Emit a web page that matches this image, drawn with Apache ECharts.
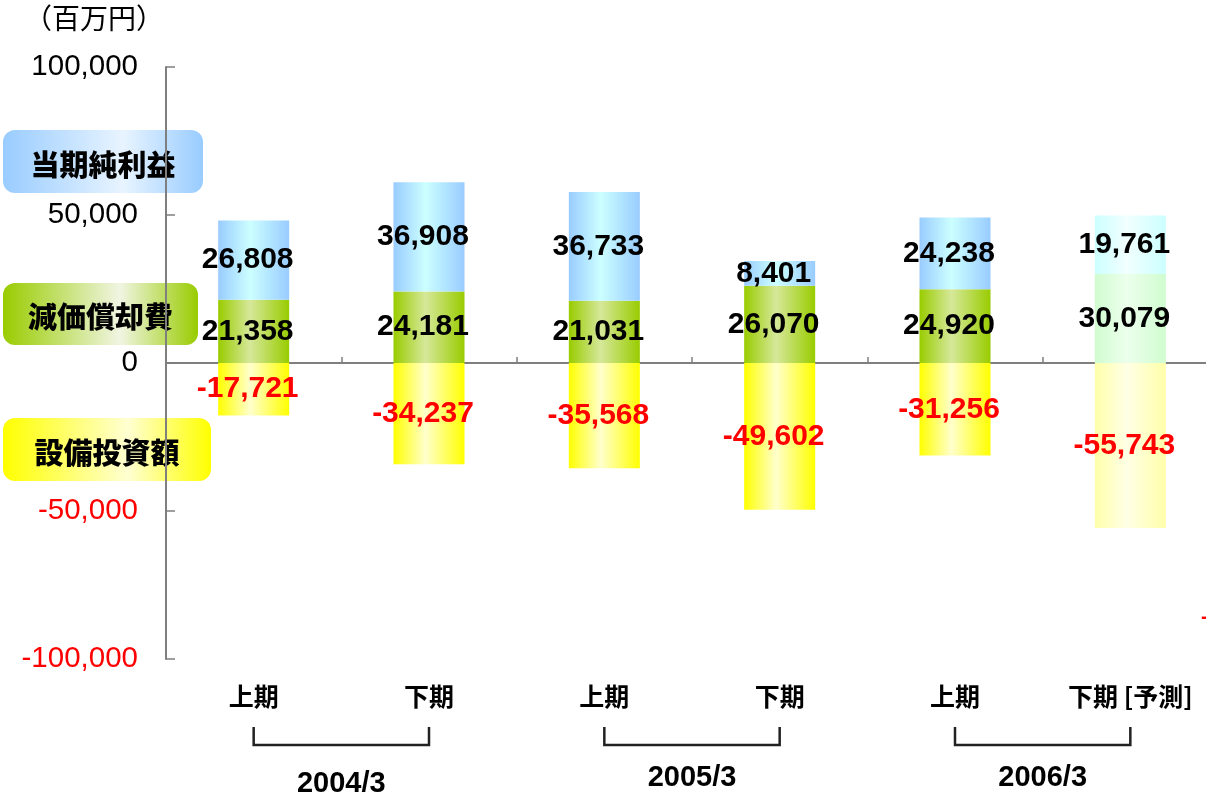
<!DOCTYPE html>
<html>
<head>
<meta charset="utf-8">
<script src="https://cdn.jsdelivr.net/npm/echarts@6/dist/echarts.min.js"></script>
<style>
html,body{margin:0;padding:0;background:#fff;}
#c{width:1206px;height:797px;}
</style>
</head>
<body>
<div id="c"></div>
<script>
const categories = ['上期', '下期', '上期', '下期', '上期', '下期 [予測]'];
const depreciation = [21358, 24181, 21031, 26070, 24920, 30079];
const netIncome = [26808, 36908, 36733, 8401, 24238, 19761];
const capex = [-17721, -34237, -35568, -49602, -31256, -55743];
const years = ['2004/3', '2005/3', '2006/3'];
const legendNames = ['当期純利益', '減価償却費', '設備投資額'];
const unitLabel = '（百万円）';
const forecastIndex = 5;

const LAT = 'Liberation Sans, Arial, sans-serif';
const CJK = 'Noto Sans CJK JP, sans-serif';

function grad(edge, mid) {
  return new echarts.graphic.LinearGradient(0, 0, 1, 0, [
    {offset: 0, color: edge}, {offset: 0.45, color: mid}, {offset: 1, color: edge}
  ]);
}
const fills = {
  blue: grad('#99ccff', '#ccffff'),
  blueF: grad('#ccffff', '#f2ffff'),
  green: grad('#99cc00', '#d6e89a'),
  greenF: grad('#d0fcd0', '#ecffec'),
  yellow: grad('#ffff00', '#ffffcc'),
  yellowF: grad('#ffffaa', '#ffffe6')
};
function fmt(v) {
  const s = Math.abs(v).toString().replace(/\B(?=(\d{3})+(?!\d))/g, ',');
  return (v < 0 ? '-' : '') + s;
}
function items(arr, normal, forecast) {
  return arr.map((v, i) => ({value: v, itemStyle: {color: i === forecastIndex ? forecast : normal}}));
}
const labelBase = {
  show: true, position: 'inside', offset: [-6, 0],
  fontFamily: LAT, fontWeight: 'bold', fontSize: 30,
  formatter: p => fmt(p.value)
};

const chart = echarts.init(document.getElementById('c'));
chart.setOption({
  animation: false,
  grid: {left: 166, width: 1052, top: 67, bottom: 138, outerBoundsMode: 'none', containLabel: false},
  xAxis: [{
    type: 'category', data: categories,
    axisLine: {onZero: true, lineStyle: {color: '#7f7f7f', width: 2}},
    axisTick: {show: true, inside: true, length: 6, lineStyle: {color: '#7f7f7f', width: 1.5}},
    axisLabel: {show: false}
  }, {
    type: 'category', data: categories, position: 'bottom',
    axisLine: {show: false}, axisTick: {show: false},
    axisLabel: {show: true, margin: 25, color: '#000', fontFamily: CJK, fontSize: 25, fontWeight: 'bold'}
  }],
  yAxis: {
    type: 'value', min: -100000, max: 100000, interval: 50000,
    axisLine: {show: true, lineStyle: {color: '#7f7f7f', width: 2}},
    axisTick: {show: true, inside: true, length: 9, lineStyle: {color: '#7f7f7f', width: 1.5}},
    splitLine: {show: false},
    axisLabel: {
      margin: 28, fontFamily: LAT, fontSize: 29.5,
      formatter: v => fmt(v),
      color: v => (Number(v) < 0 ? '#ff0000' : '#000000')
    }
  },
  series: [{
    name: legendNames[1], type: 'bar', stack: 'all', barWidth: 71,
    data: items(depreciation, fills.green, fills.greenF),
    label: Object.assign({}, labelBase, {color: '#000'})
  }, {
    name: legendNames[0], type: 'bar', stack: 'all', barWidth: 71,
    data: items(netIncome, fills.blue, fills.blueF),
    label: Object.assign({}, labelBase, {color: '#000'})
  }, {
    name: legendNames[2], type: 'bar', stack: 'all', barWidth: 71,
    data: items(capex, fills.yellow, fills.yellowF),
    label: Object.assign({}, labelBase, {color: '#ff0000'})
  }]
});

const cx = categories.map((c, i) => chart.convertToPixel({xAxisIndex: 0}, i));
const graphics = [];
graphics.push({type: 'text', left: 24, top: 4, style: {text: unitLabel, font: '28px ' + CJK, fill: '#000'}});

const boxes = [
  {y: 130, w: 200, h: 63, edge: '#99ccff', mid: '#e8f4ff', name: legendNames[0]},
  {y: 283, w: 195, h: 62, edge: '#99cc00', mid: '#f0f5e2', name: legendNames[1]},
  {y: 418, w: 208, h: 63, edge: '#ffff00', mid: '#ffffd2', name: legendNames[2]}
];
boxes.forEach(b => {
  graphics.push({
    type: 'rect', shape: {x: 3, y: b.y, width: b.w, height: b.h, r: 12},
    style: {fill: new echarts.graphic.LinearGradient(0, 0, 1, 0, [
      {offset: 0, color: b.edge}, {offset: 0.6, color: b.mid}, {offset: 1, color: b.edge}])}
  });
  graphics.push({
    type: 'text', x: 3 + b.w / 2, y: b.y + b.h / 2 + 3,
    style: {text: b.name, font: '900 29px ' + CJK, fill: '#000', align: 'center', verticalAlign: 'middle'}
  });
});

const yearY = [784, 778, 778];
years.forEach((yr, k) => {
  const x1 = cx[2 * k], x2 = cx[2 * k + 1];
  graphics.push({
    type: 'polyline',
    shape: {points: [[x1, 727], [x1, 745], [x2, 745], [x2, 727]]},
    style: {stroke: '#222', lineWidth: 2.5, fill: null}
  });
  graphics.push({
    type: 'text', x: (x1 + x2) / 2, y: yearY[k],
    style: {text: yr, font: 'bold 29px ' + LAT, fill: '#000', align: 'center', verticalAlign: 'middle'}
  });
});
graphics.push({type: 'text', x: 1201, y: 617, style: {text: '-', font: 'bold 20px ' + LAT, fill: '#ff0000', verticalAlign: 'middle'}});

chart.setOption({graphic: graphics});
</script>
</body>
</html>
